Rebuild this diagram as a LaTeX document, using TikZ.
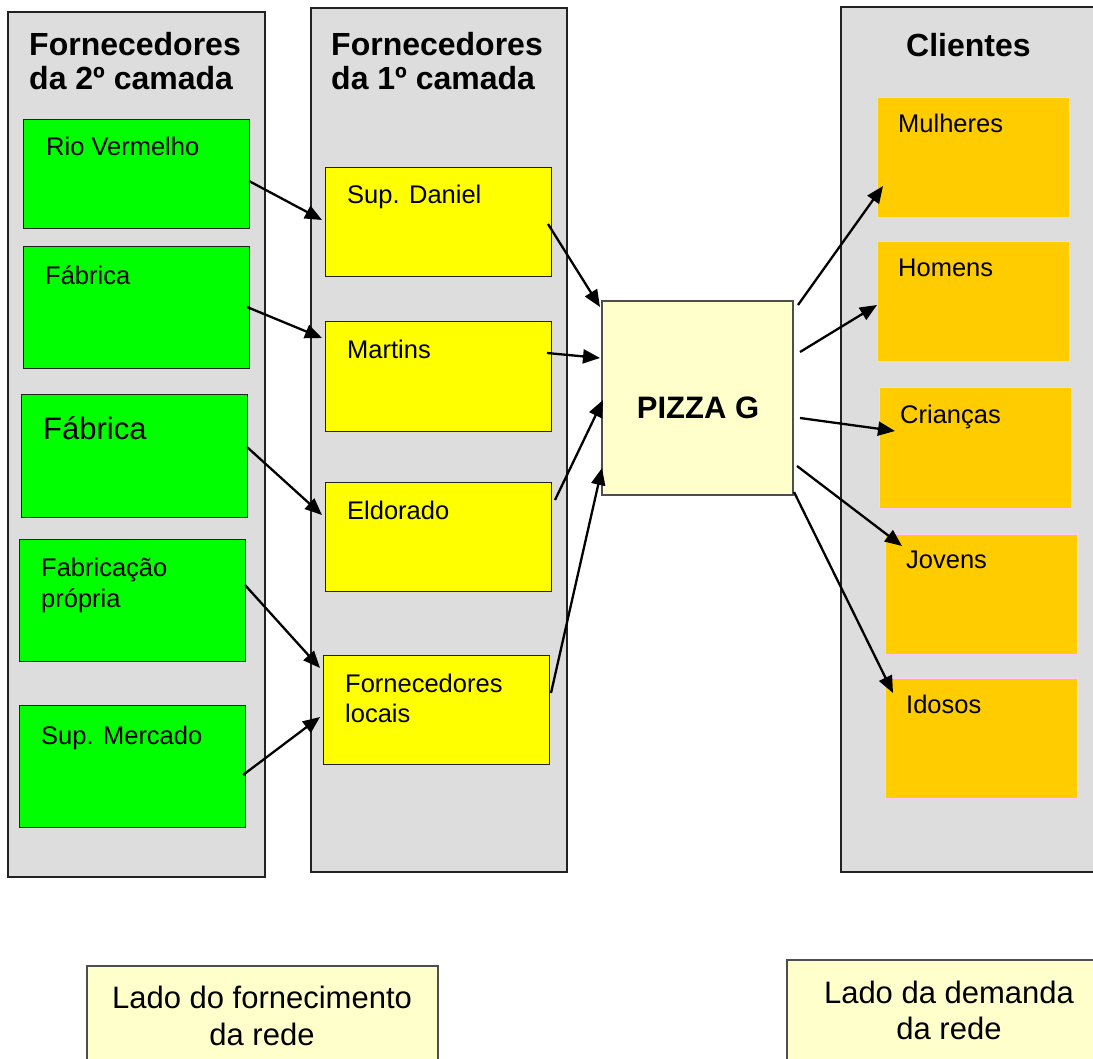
\documentclass[tikz,border=0pt]{standalone}
\usepackage{fontspec}
\setmainfont{Liberation Sans}
\usetikzlibrary{arrows.meta,calc}
\definecolor{colgray}{HTML}{DDDDDD}
\definecolor{grn}{HTML}{00FF00}
\definecolor{ylw}{HTML}{FFFF00}
\definecolor{pale}{HTML}{FFFFCC}
\definecolor{org}{HTML}{FFCC00}
\definecolor{pinkb}{HTML}{FFCCFF}
\definecolor{edge}{HTML}{222222}
\begin{document}
\begin{tikzpicture}[x=1pt,y=-1pt,
  box/.style={anchor=north west, inner sep=0pt, outer sep=0pt, rectangle},
  column/.style={box, fill=colgray, draw=edge, line width=1.5pt},
  gbox/.style={box, fill=grn, draw=edge, line width=1pt},
  ybox/.style={box, fill=ylw, draw=edge, line width=1pt},
  obox/.style={box, fill=org, draw=pinkb, line width=1pt},
  pbox/.style={box, fill=pale, draw=edge!80, line width=1.2pt},
  lbl/.style={anchor=base west, inner sep=0pt, font=\fontsize{25.5}{30}\selectfont},
  biglbl/.style={anchor=base west, inner sep=0pt, font=\fontsize{31}{36}\selectfont},
  ttl/.style={anchor=base west, inner sep=0pt, font=\bfseries\fontsize{32}{34}\selectfont},
  btxt/.style={anchor=base, inner sep=0pt, font=\fontsize{31}{36}\selectfont},
  arr/.style={line width=2.3pt, -{Triangle[length=17pt,width=14pt]}}]
\useasboundingbox (0,0) rectangle (1093,1059);
\clip (0,0) rectangle (1093,1059);
% columns
\node[column, minimum width=257pt, minimum height=865pt] (c1) at (8,12) {};
\node[column, minimum width=256pt, minimum height=864pt] (c2) at (311,8) {};
\node[column, minimum width=269pt, minimum height=865pt] (c3) at (841,7) {};
% titles
\node[ttl] (t1a) at (29,56) {Fornecedores};
\node[ttl] (t1b) at (29,90) {da 2º camada};
\node[ttl] (t2a) at (331,56) {Fornecedores};
\node[ttl] (t2b) at (331,90) {da 1º camada};
\node[ttl] (t3) at (906,57) {Clientes};
% green boxes
\node[gbox, minimum width=226pt, minimum height=109pt] (g1) at (23,120) {};
\node[gbox, minimum width=226pt, minimum height=122pt] (g2) at (23,247) {};
\node[gbox, minimum width=226pt, minimum height=122pt] (g3) at (21,395) {};
\node[gbox, minimum width=226pt, minimum height=122pt] (g4) at (19,539) {};
\node[gbox, minimum width=226pt, minimum height=122pt] (g5) at (19,705) {};
\node[lbl] (g1t) at (46,156) {Rio Vermelho};
\node[lbl] (g2t) at (45,285) {Fábrica};
\node[biglbl] (g3t) at (43,439) {Fábrica};
\node[lbl] (g4t) at (41,576) {Fabricação};
\node[lbl] (g4u) at (41,607) {própria};
\node[lbl] (g5t) at (41,744) {Sup. Mercado};
% yellow boxes
\node[ybox, minimum width=226pt, minimum height=109pt] (y1) at (325,168) {};
\node[ybox, minimum width=226pt, minimum height=109pt] (y2) at (325,322) {};
\node[ybox, minimum width=226pt, minimum height=109pt] (y3) at (325,482) {};
\node[ybox, minimum width=226pt, minimum height=109pt] (y4) at (323,655) {};
\node[lbl] (y1t) at (347,204) {Sup. Daniel};
\node[lbl] (y2t) at (347,359) {Martins};
\node[lbl] (y3t) at (347,519) {Eldorado};
\node[lbl] (y4t) at (345,692) {Fornecedores};
\node[lbl] (y4u) at (345,722) {locais};
% center
\node[pbox, minimum width=191pt, minimum height=194pt] (pz) at (602,301) {};
\node[anchor=base, inner sep=0pt, font=\bfseries\fontsize{31}{36}\selectfont] (pzt) at (698,418) {PIZZA G};
% orange boxes
\node[obox, minimum width=192pt, minimum height=120pt] (o1) at (877,98) {};
\node[obox, minimum width=192pt, minimum height=120pt] (o2) at (877,242) {};
\node[obox, minimum width=192pt, minimum height=120pt] (o3) at (879,388) {};
\node[obox, minimum width=192pt, minimum height=120pt] (o4) at (885,534) {};
\node[obox, minimum width=192pt, minimum height=120pt] (o5) at (885,678) {};
\node[lbl] (o1t) at (898,133) {Mulheres};
\node[lbl] (o2t) at (898,277) {Homens};
\node[lbl] (o3t) at (900,424) {Crianças};
\node[lbl] (o4t) at (906,568) {Jovens};
\node[lbl] (o5t) at (906,713) {Idosos};
% bottom boxes
\node[pbox, minimum width=351pt, minimum height=110pt] (b1) at (87,966) {};
\node[pbox, minimum width=325pt, minimum height=115pt] (b2) at (787,960) {};
\node[btxt] (b1t) at (262,1008) {Lado do fornecimento};
\node[btxt] (b1u) at (262,1045) {da rede};
\node[btxt] (b2t) at (949,1003) {Lado da demanda};
\node[btxt] (b2u) at (949,1039) {da rede};
% arrows tier 2 -> tier 1
\draw[arr] ($(g1.north east)+(0,61)$) -- ($(y1.north west)+(-3,52)$);
\draw[arr] ($(g2.north east)+(-2,60)$) -- ($(y2.north west)+(-3,16)$);
\draw[arr] ($(g3.north east)+(0,52)$) -- ($(y3.north west)+(-3,33)$);
\draw[arr] ($(g4.north east)+(0,46)$) -- ($(y4.north west)+(-3,13)$);
\draw[arr] ($(g5.north east)+(-2,70)$) -- ($(y4.north west)+(-3,62)$);
% tier 1 -> pizza
\draw[arr] ($(y1.north east)+(-3,56)$) -- ($(pz.north west)+(-2,6)$);
\draw[arr] ($(y2.north east)+(-4,31)$) -- ($(pz.north west)+(-2,57)$);
\draw[arr] ($(y3.north east)+(4,18)$) -- ($(pz.north west)+(1,99)$);
\draw[arr] ($(y4.north east)+(2,38)$) -- ($(pz.north west)+(0,167)$);
% pizza -> clients
\draw[arr] ($(pz.north east)+(5,4)$) -- ($(o1.north west)+(6,88)$);
\draw[arr] ($(pz.north east)+(7,51)$) -- ($(o2.north west)+(0,63)$);
\draw[arr] ($(pz.north east)+(7,117)$) -- ($(o3.north west)+(16,43)$);
\draw[arr] ($(pz.north east)+(4,165)$) -- ($(o4.north west)+(17,12)$);
\draw[arr] ($(pz.north east)+(1,191)$) -- ($(o5.north west)+(8,15)$);
\end{tikzpicture}
\end{document}
